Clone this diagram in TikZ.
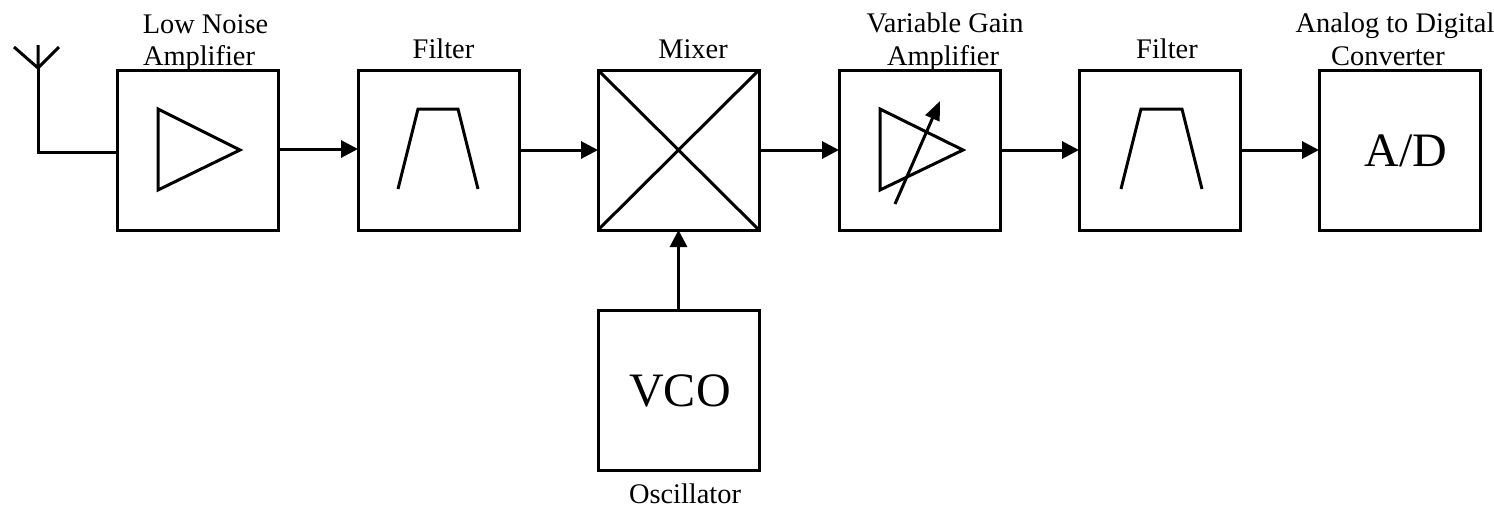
\documentclass[tikz,border=0pt]{standalone}
\usepackage{fontspec}
\setmainfont{Liberation Serif}
\usetikzlibrary{arrows.meta,calc}
\tikzset{
  x=1pt,y=-1pt,
  blockbox/.style={draw=black,line width=3pt,minimum width=161pt,minimum height=160pt,inner sep=0pt,outer sep=0pt,anchor=north west},
  wire/.style={draw=black,line width=3pt},
  arrowwire/.style={wire,-{Triangle[length=17pt,width=17pt]}},
  icon/.style={draw=black,line width=3pt,line join=miter},
  caption/.style={font=\fontsize{28.4}{28.4}\selectfont,anchor=base,inner sep=0pt,text=black},
  bigtext/.style={font=\fontsize{48}{48}\selectfont,anchor=base,inner sep=0pt,text=black}
}
\begin{document}
\begin{tikzpicture}
\useasboundingbox (0,0) rectangle (1494,507);
% blocks
\node[blockbox] (lna) at (117,70) {};
\node[blockbox] (f1) at (358,70) {};
\node[blockbox] (mix) at (598,70) {};
\node[blockbox] (vga) at (839,70) {};
\node[blockbox] (f2) at (1079,70) {};
\node[blockbox] (adc) at (1319,70) {};
\node[blockbox] (vco) at (598,310) {};
% antenna
\coordinate (antbase) at (38,68);
\coordinate (antcorner) at (38,152);
\coordinate (antin) at (117,152);
\draw[wire,line join=miter] (38,45) -- (antbase) (14,47) -- (antbase) -- (59,47);
\draw[wire,line join=miter] (antbase) -- (antcorner) -- (antin);
% connectors
\draw[arrowwire] ($(lna.east)+(0,-1)$) -- ($(f1.west)+(0,-1)$);
\draw[arrowwire] (f1.east) -- (mix.west);
\draw[arrowwire] (mix.east) -- (vga.west);
\draw[arrowwire] (vga.east) -- (f2.west);
\draw[arrowwire] (f2.east) -- (adc.west);
\draw[arrowwire] (vco.north) -- (mix.south);
% icons
\draw[icon] (158,109) -- (240,150) -- (158,190) -- cycle;
\draw[icon] (398,189) -- (418,109) -- (458,109) -- (478,189);
\draw[icon] (mix.north west) -- (mix.south east) (mix.north east) -- (mix.south west);
\draw[icon] (880,109) -- (963,150) -- (880,190) -- cycle;
\draw[icon,-{Triangle[length=19pt,width=15pt]}] (895,204) -- (940,101);
\draw[icon] (1121,189) -- (1141,109) -- (1182,109) -- (1202,189);
% captions
\node[caption] (t1) at (205.5,33) {Low Noise};
\node[caption] (t2) at (199,65) {Amplifier};
\node[caption] (t3) at (443.5,58) {Filter};
\node[caption] (t4) at (693,58) {Mixer};
\node[caption] (t5) at (945,32) {Variable Gain};
\node[caption] (t6) at (943,65) {Amplifier};
\node[caption] (t7) at (1167,58) {Filter};
\node[caption] (t8) at (1395,32) {Analog to Digital};
\node[caption] (t9) at (1388,65) {Converter};
\node[caption] (t10) at (685,503.5) {Oscillator};
\node[bigtext] (t11) at (680,406) {VCO};
\node[bigtext] (t12) at (1406,166) {A/D};
\end{tikzpicture}
\end{document}
